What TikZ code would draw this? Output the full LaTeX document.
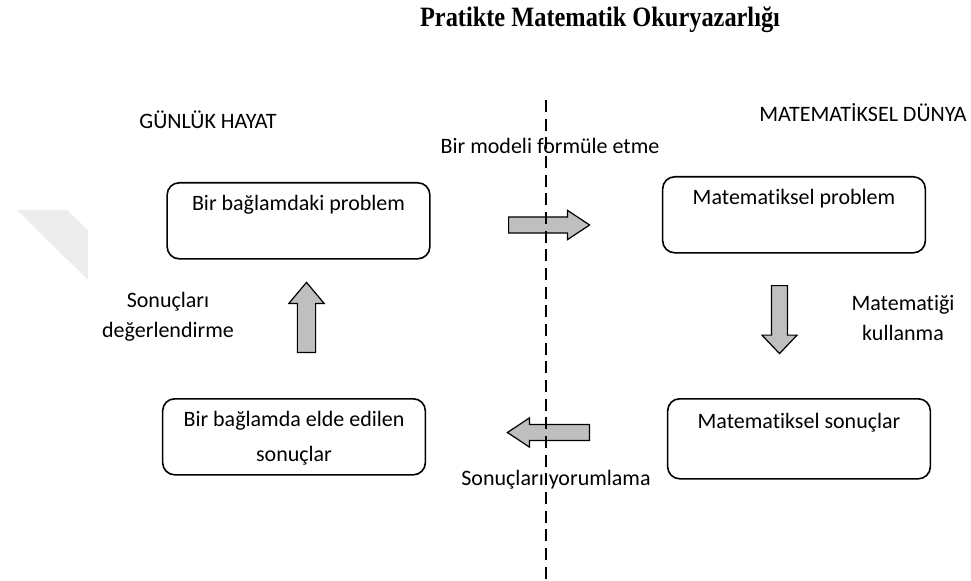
\documentclass[tikz,border=0pt]{standalone}
\usepackage{fontspec}
\setmainfont[Ligatures=NoCommon, RawFeature={-liga;-calt}]{Carlito}
\newfontfamily\titlefont[FakeStretch=0.87]{Liberation Serif}
\usetikzlibrary{shapes.arrows}

\tikzset{
  box/.style={draw, rounded corners=9pt, line width=1.2pt, anchor=north,
    minimum width=197pt, minimum height=57pt, inner xsep=0pt, inner ysep=4pt,
    text height=17pt, text depth=32pt, font=\fontsize{16.5}{26}\selectfont},
  lbl/.style={anchor=base, inner sep=0pt, font=\fontsize{16.5}{23}\selectfont},
  blockarrow/.style={single arrow, draw, fill=gray!50, line width=0.9pt,
    anchor=tail, inner xsep=0pt, inner ysep=5.6pt,
    single arrow head extend=4.9pt, single arrow tip angle=67},
  border/.style={line width=1.9pt, dash pattern=on 9pt off 5pt}
}

\begin{document}
\begin{tikzpicture}[x=0.75pt, y=-0.75pt]
\useasboundingbox (0,0) rectangle (971,581);

% faint mark at the left edge
\fill[black!7] (17,210) -- (67,210) -- (88,230) -- (88,280) -- cycle;

\node[anchor=base, inner sep=0pt] (title) at (600,27)
{\titlefont\bfseries\fontsize{21}{25}\selectfont Pratikte Matematik Okuryazarlığı};

\node[lbl] (hayat) at (208,129) {GÜNLÜK HAYAT};
\node[lbl] (dunya) at (863,122) {MATEMATİKSEL DÜNYA};

% the four boxes
\node[box] (problem)  at (298.5,182) {Bir bağlamdaki problem};
\node[box] (mproblem) at (794,176)   {Matematiksel problem};
\node[box] (sonuc)    at (294,398)
{\begin{tabular}[t]{@{}c@{}}Bir bağlamda elde edilen\\sonuçlar\end{tabular}};
\node[box, minimum height=60pt] (msonuc) at (799,398) {Matematiksel sonuçlar};

% block arrows between them (placed by their tails)
\node[blockarrow, minimum height=60.75pt] (formule) at (508,225) {};
\node[blockarrow, minimum height=61.5pt, rotate=180] (yorum) at (590,432.5) {};
\node[blockarrow, minimum height=52.5pt, rotate=90, inner ysep=6.4pt,
  single arrow head extend=6.4pt, single arrow tip angle=80] (deger) at (306.5,353) {};
\node[blockarrow, minimum height=51pt, rotate=-90,
  single arrow head extend=7.1pt, single arrow tip angle=87] (kullan) at (779.5,285) {};

\node[lbl] (formuletxt) at (550,154) {Bir modeli formüle etme};
\node[lbl] (yorumtxt)   at (556,485) {Sonuçları yorumlama};
\node[lbl] (degertxt)   at (168,307)
{\begin{tabular}[t]{@{}c@{}}Sonuçları\\değerlendirme\end{tabular}};
\node[lbl] (kullantxt)  at (903,310)
{\begin{tabular}[t]{@{}c@{}}Matematiği\\kullanma\end{tabular}};

% dashed border between the two worlds
\coordinate (top) at (546,100);
\coordinate (bottom) at (546,581);
\draw[border] (top) -- (bottom);

\end{tikzpicture}
\end{document}
